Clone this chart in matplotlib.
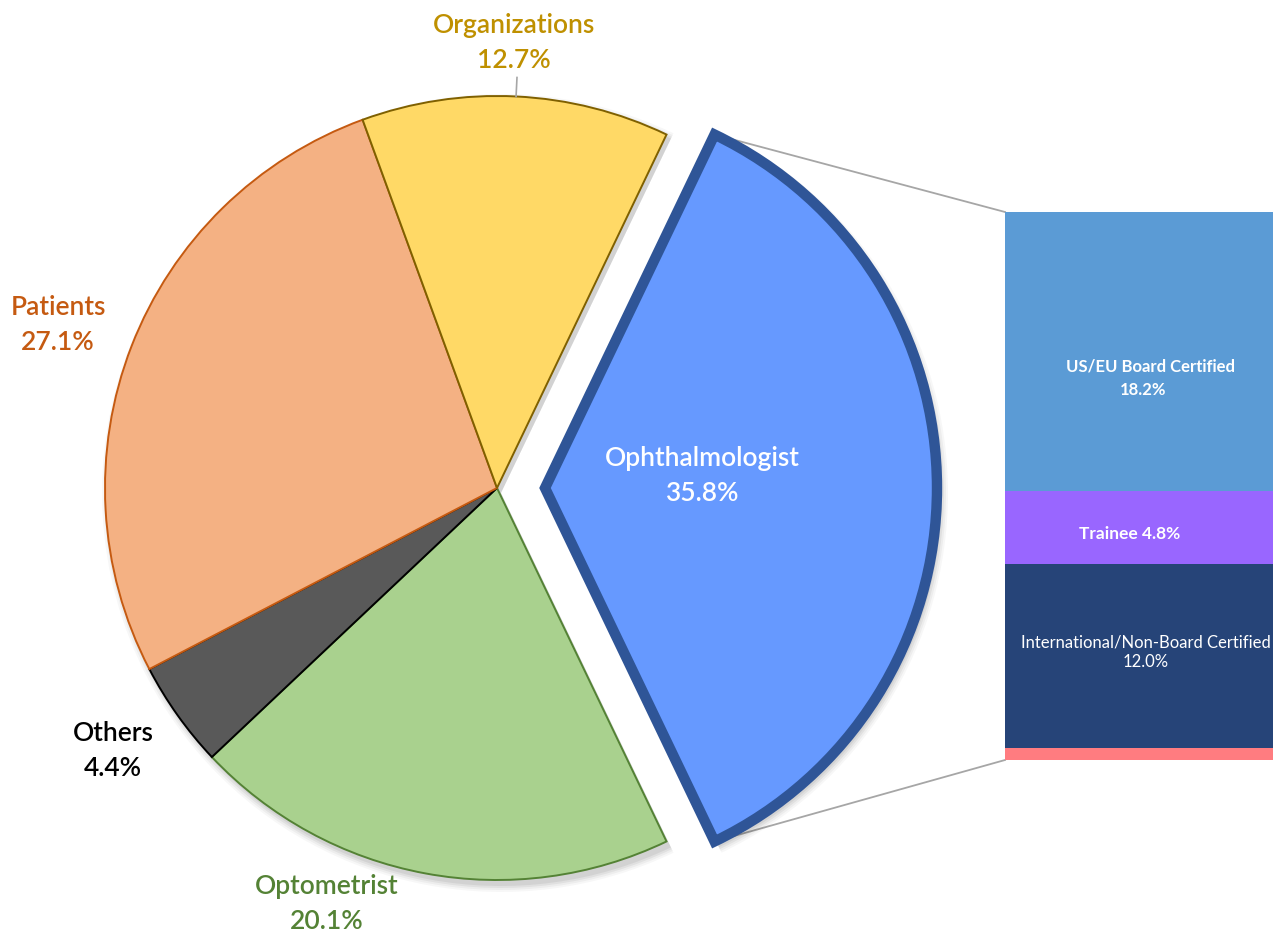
"""Bar-of-pie: survey respondents by group, with Ophthalmologist breakdown."""

import matplotlib
matplotlib.use("Agg")
import matplotlib.pyplot as plt
import numpy as np

# ── Data ────────────────────────────────────────────────────────────────
groups = ["Ophthalmologist", "Optometrist", "Others", "Patients", "Organizations"]
shares = [35.8, 20.1, 4.4, 27.1, 12.7]

sub_groups = ["US/EU Board Certified", "Trainee",
              "International/Non-Board Certified", "Unspecified"]
sub_shares = [18.2, 4.8, 12.0, 0.8]

# ── Style ───────────────────────────────────────────────────────────────
W, H = 1273, 934
FONT = "Lato"
fills = ["#6699FF", "#A9D18E", "#595959", "#F4B183", "#FFD966"]
edges = ["#2F5597", "#548235", "#000000", "#C55A11", "#7F6000"]
edge_w = [7.5, 1.4, 1.4, 1.4, 1.4]
label_colors = ["white", "#548235", "#000000", "#C55A11", "#BF9000"]
sub_fills = ["#5B9BD5", "#9966FF", "#264478", "#FF7C80"]
LINE_GRAY = "#A6A6A6"

# pixel layout (y measured from the bottom)
CX, CY, R = 497, H - 488, 392
EXPLODE = 48                      # matplotlib explode is in data units
BAR_L, BAR_R, BAR_T, BAR_B = 1005, 1275, H - 212, H - 760

fig = plt.figure(figsize=(W / 100, H / 100), dpi=100)
ax = fig.add_axes([0, 0, 1, 1])

start = 360 * shares[0] / sum(shares) / 2
explode = [EXPLODE, 0, 0, 0, 0]

# soft shadow
for k, a in [(7, 0.03), (5, 0.04), (3, 0.05), (1, 0.06)]:
    ax.pie(shares, startangle=start, counterclock=False,
           center=(CX + 4, CY - 5), radius=R + k, explode=explode,
           colors=["black"] * 5, wedgeprops=dict(linewidth=0, alpha=a))

wedges, _ = ax.pie(shares, startangle=start, counterclock=False,
                   center=(CX, CY), radius=R, explode=explode, colors=fills)
for w, ec, lw in zip(wedges, edges, edge_w):
    w.set_edgecolor(ec)
    w.set_linewidth(lw)
    w.set_joinstyle("miter")

ax.set_xlim(0, W)
ax.set_ylim(0, H)
ax.set_aspect("equal")
ax.axis("off")

# ── Pie labels ──────────────────────────────────────────────────────────
label_pos = {
    "Ophthalmologist": (702, 476),
    "Optometrist": (327, 904),
    "Others": (113, 751),
    "Patients": (58, 325),
    "Organizations": (514, 43),
}
for name, val, col in zip(groups, shares, label_colors):
    x, y = label_pos[name]
    ax.text(x, H - y, f"{name}\n{val:.1f}%", ha="center", va="center",
            fontsize=19, color=col, family=FONT, fontweight="semibold",
            linespacing=1.5)

# leader line for Organizations
org = wedges[4]
mid = np.deg2rad((org.theta1 + org.theta2) / 2)
ax.plot([CX + R * np.cos(mid), CX + 411 * np.cos(mid)],
        [CY + R * np.sin(mid), CY + 411 * np.sin(mid)],
        color=LINE_GRAY, lw=1.2)

# ── Connector lines from exploded wedge to the bar ─────────────────────
oph = wedges[0]
ocx, ocy = oph.center
for th, by in [(oph.theta2, BAR_T), (oph.theta1, BAR_B)]:
    t = np.deg2rad(th)
    ax.plot([ocx + R * np.cos(t), BAR_L], [ocy + R * np.sin(t), by],
            color=LINE_GRAY, lw=1.3, zorder=0)

# ── Stacked bar ─────────────────────────────────────────────────────────
bax = fig.add_axes([BAR_L / W, BAR_B / H, (BAR_R - BAR_L) / W, (BAR_T - BAR_B) / H])
total = sum(sub_shares)
bottoms = total - np.cumsum(sub_shares)
bax.bar([0] * len(sub_shares), sub_shares, bottom=bottoms, width=1.0,
        color=sub_fills, linewidth=0)
bax.set_xlim(-0.5, 0.5)
bax.set_ylim(0, total)
bax.axis("off")

b0 = bottoms[0] + sub_shares[0] / 2
bax.text(0.04, b0 - 1.0, sub_groups[0], ha="center", va="center",
         color="white", fontsize=12, fontweight="bold", family=FONT)
bax.text(0.01, b0 - 2.5, f"{sub_shares[0]:.1f}%", ha="center", va="center",
         color="white", fontsize=12, fontweight="bold", family=FONT)
bax.text(-0.04, bottoms[1] + sub_shares[1] / 2 - 0.45,
         f"{sub_groups[1]} {sub_shares[1]:.1f}%", ha="center", va="center",
         color="white", fontsize=12.5, fontweight="bold", family=FONT)
b2 = bottoms[2] + sub_shares[2] / 2
bax.text(0.02, b2 + 0.9, sub_groups[2], ha="center", va="center",
         color="white", fontsize=12, family=FONT)
bax.text(0.02, b2 - 0.4, f"{sub_shares[2]:.1f}%", ha="center", va="center",
         color="white", fontsize=12, family=FONT)

fig.savefig("out.png", dpi=100)
